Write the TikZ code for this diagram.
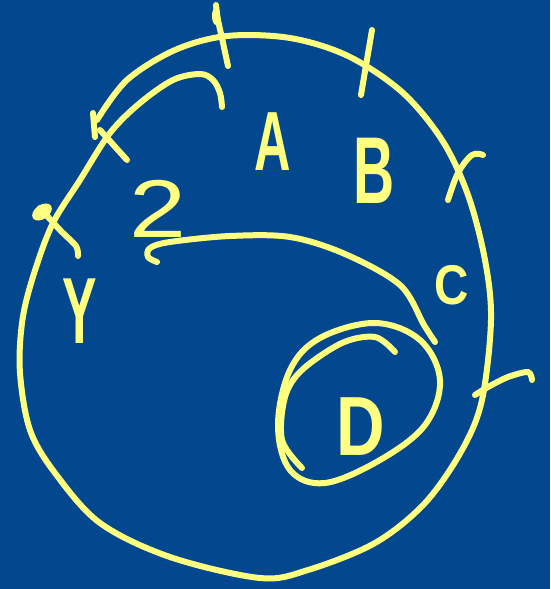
\documentclass[tikz,border=0pt]{standalone}
\usepackage{fontspec}
\setmainfont{Liberation Sans}
\definecolor{bg}{RGB}{3,71,143}
\definecolor{ink}{RGB}{255,255,128}
\newcommand{\hw}[3]{\scalebox{#1}[1]{\fontsize{#2}{#2}\selectfont #3}}
\begin{document}
\begin{tikzpicture}[x=1pt,y=-1pt,
  pen/.style={draw=ink,line width=6pt,line cap=round,line join=round},
  lbl/.style={text=ink,inner sep=0pt,anchor=center,font=\bfseries}]
\fill[bg] (0,0) rectangle (550,589);
\useasboundingbox (0,0) rectangle (550,589);
% outer loop (open at top-left, continues into the arc over A)
\draw[pen] plot[smooth,tension=0.55] coordinates {
 (97,120) (127,80) (175,50) (227,36) (290,38) (348,56) (402,92) (442,140)
 (468,195) (485,260) (491,320) (482,400) (462,450) (425,503) (375,543)
 (308,570) (260,578) (170,557) (100,523) (55,473) (30,430) (20,373) (22,323)
 (32,280) (52,225) (80,180) (110,133) (140,103) (173,80) (200,74) (213,80)
 (220,93) (222,107)};
% ticks
\draw[pen] plot[smooth,tension=0.5] coordinates {(216,5) (218,20) (222,38) (228,66)};
\fill[ink] (216,16) ellipse (4pt and 9pt);
\draw[pen] (372,30) -- (361,95);
\draw[pen] plot[smooth,tension=0.6] coordinates {(483,155) (472,155) (458,173) (448,200)};
\draw[pen] plot[smooth,tension=0.5] coordinates {(475,395) (488,387) (508,377) (528,372) (532,380)};
\draw[pen] (93,113) -- (95,137);
\draw[pen] (100,130) -- (127,160);
\fill[ink, rotate around={35:(42,212)}] (42,212) ellipse (11pt and 7pt);
\draw[pen] plot[smooth,tension=0.5] coordinates {(40,208) (60,230) (76,246) (78,256)};
% inner arc
\draw[pen] plot[smooth,tension=0.55] coordinates {
 (157,262) (148,257) (150,248) (170,242) (230,236) (290,237) (345,254)
 (400,285) (424,325) (435,342)};
% ellipse around D
\draw[pen] plot[smooth cycle,tension=0.6] coordinates {
 (375,323) (420,340) (440,380) (425,425) (380,460) (325,483) (290,470)
 (278,425) (290,370) (320,338)};
\draw[pen] plot[smooth,tension=0.55] coordinates {
 (302,468) (282,440) (285,397) (302,370) (342,343) (375,337) (395,352)};
% labels
\node[lbl] (A) at (273,142) {\hw{0.6}{84}{A}};
\node[lbl] (B) at (374,171) {\hw{0.6}{95}{B}};
\node[lbl] (C) at (452,285) {\hw{0.85}{56}{C}};
\node[lbl] (D) at (361,427) {\hw{0.8}{84}{D}};
\node[lbl] (two) at (158,209) {\mdseries\hw{1.25}{82}{2}};
\node[lbl] (Y) at (80,311) {\hw{0.55}{94}{Y}};
\end{tikzpicture}
\end{document}
